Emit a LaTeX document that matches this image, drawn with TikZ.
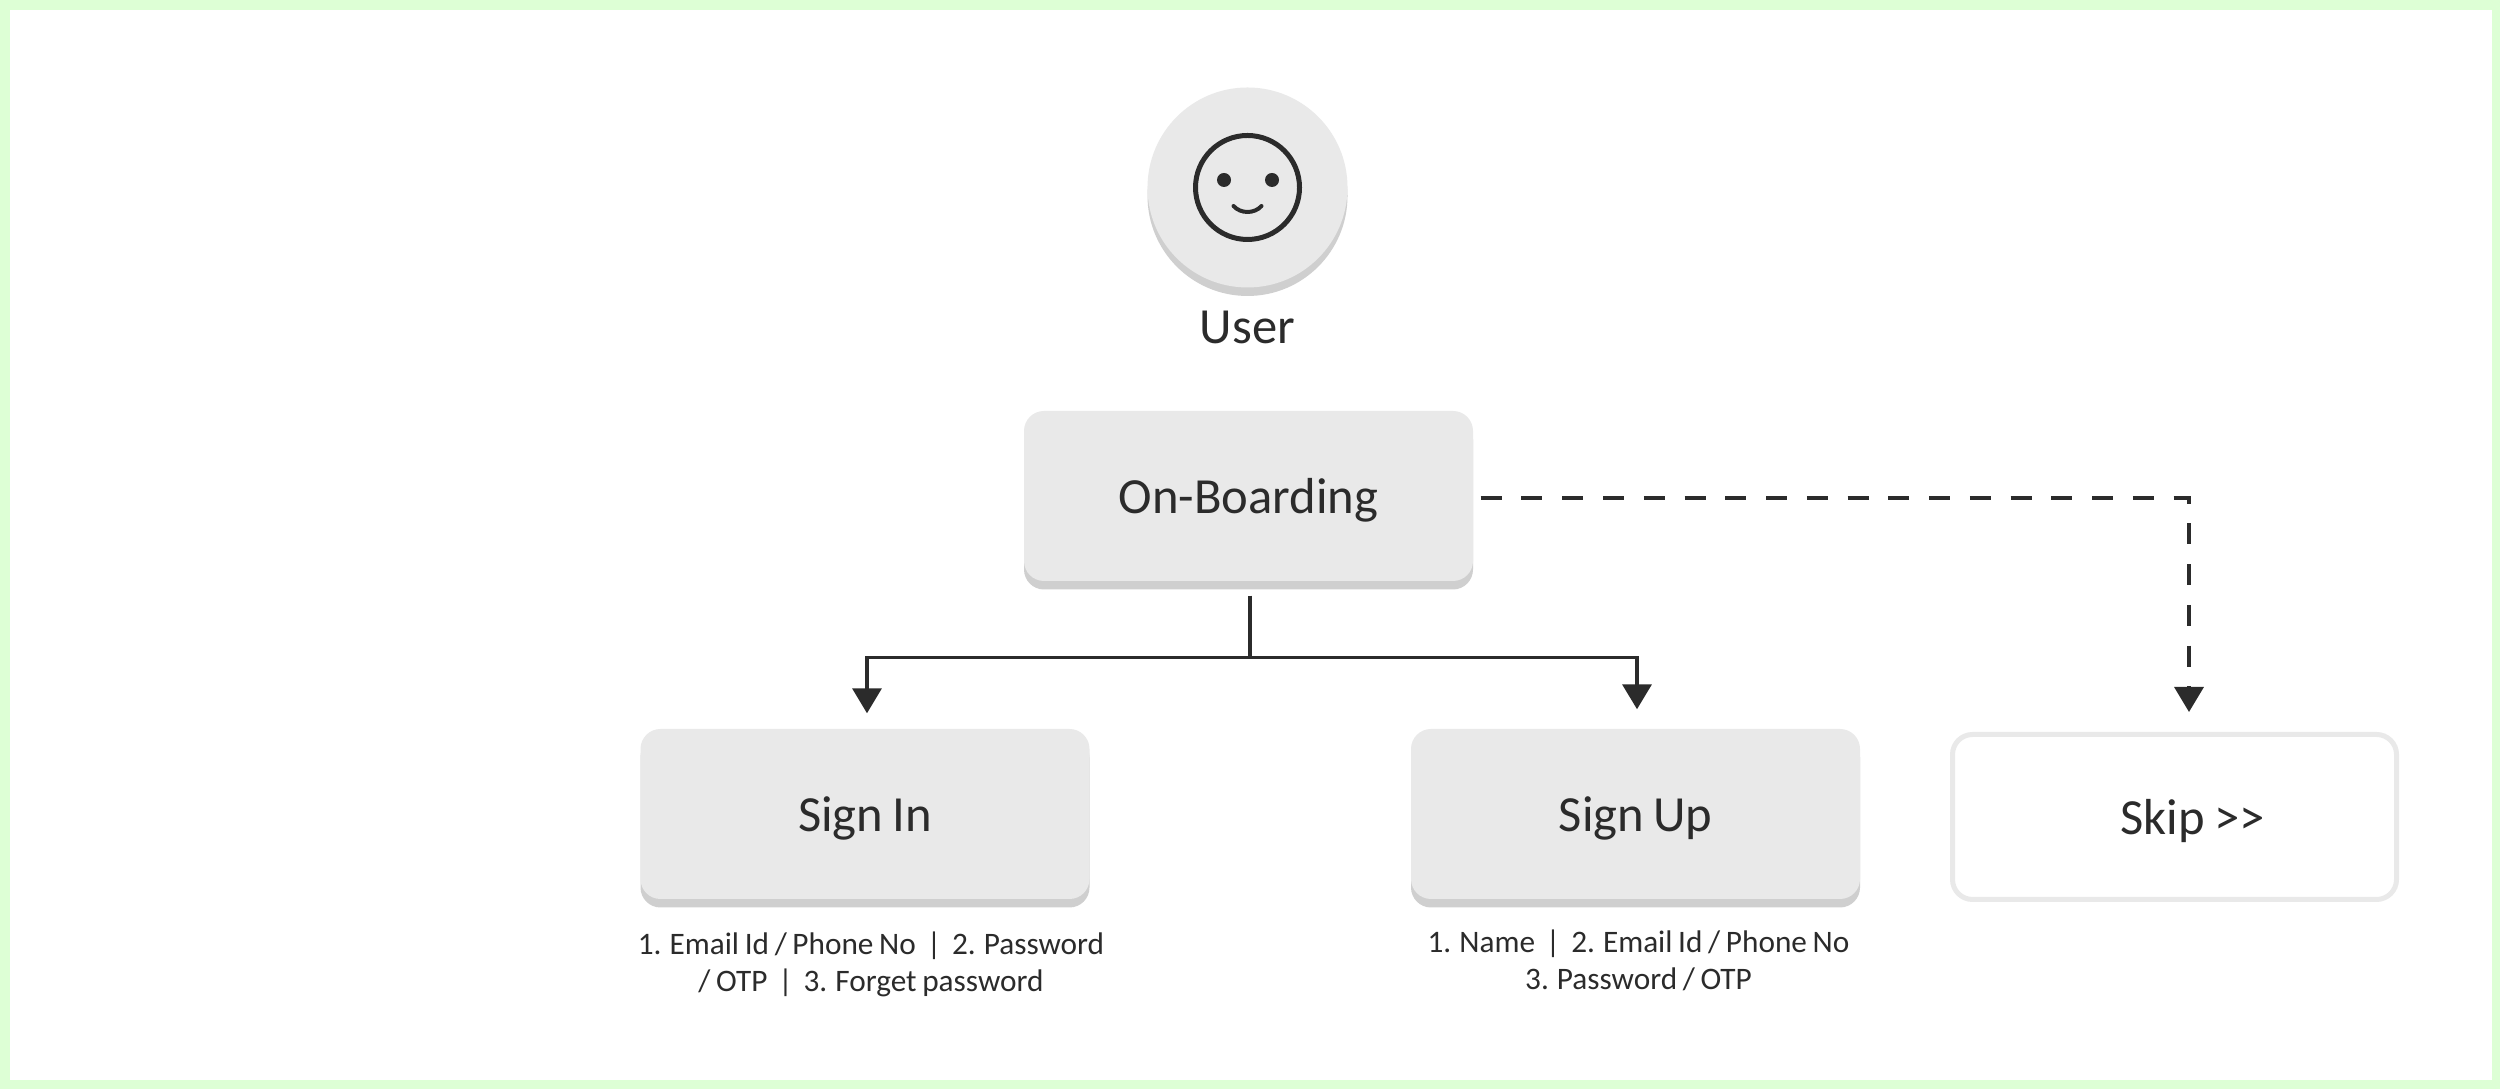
\documentclass[tikz,border=0pt]{standalone}
\usepackage{fontspec}
\setmainfont[WordSpace=0.8]{Carlito}
\usepackage{xcolor}
\usetikzlibrary{arrows.meta,positioning,shadows}
\definecolor{frameGreen}{HTML}{DDFFD5}
\definecolor{tileGrey}{HTML}{E9E9E9}
\definecolor{lipGrey}{HTML}{CFCFCF}
\definecolor{inkGrey}{HTML}{2B2B2B}
\newcommand{\bigtext}{\fontsize{14.4}{16}\selectfont}
\newcommand{\smalltext}{\fontsize{8.9}{10.5}\selectfont}
\tikzset{
  tilebase/.style={rounded corners=0.2cm, minimum width=4.49cm,
    minimum height=1.7cm, inner sep=0pt, text=inkGrey, font=\bigtext,
    text height=0.35cm, text depth=0cm},
  tile/.style={tilebase, fill=tileGrey,
    general shadow={shadow yshift=-0.085cm, fill=lipGrey}},
  wire/.style={draw=inkGrey, line width=0.035cm},
  tipped/.style={-{Triangle[length=0.25cm,width=0.29cm]}},
  caption/.style={align=center, inner sep=0pt, text=inkGrey, font=\smalltext}
}

\begin{document}
\begin{tikzpicture}[>=Stealth]
    \useasboundingbox (0,0) rectangle (25,10.89);
    % Frame
    \fill[frameGreen] (0,0) rectangle (25,10.89);
    \fill[white] (0.10,0.09) rectangle (24.92,10.79);

    % User
    \node[circle, fill=tileGrey, minimum size=2cm, inner sep=0pt,
          general shadow={shadow yshift=-0.085cm, fill=lipGrey}] (user) at (12.475,9.015) {};
    \draw[inkGrey, line width=0.05cm] (user.center) circle (0.52);
    \fill[inkGrey] ([shift={(-0.235,0.075)}]user.center) circle (0.07);
    \fill[inkGrey] ([shift={(0.245,0.075)}]user.center) circle (0.07);
    \draw[inkGrey, line width=0.04cm, line cap=round]
        ([shift={(-0.14,-0.185)}]user.center)
        .. controls ([shift={(-0.07,-0.265)}]user.center) and ([shift={(0.07,-0.265)}]user.center)
        .. ([shift={(0.14,-0.185)}]user.center);
    \node[below=0.225cm of user, inner sep=0pt, text=inkGrey, font=\bigtext,
          text height=0.32cm, text depth=0cm] (userlabel) {User};

    % Boxes
    \node[tile] (onboard) at (12.485,5.93) {On-Boarding};
    \node[tile] (signin) at (8.65,2.75) {Sign In};
    \node[tile] (signup) at (16.355,2.75) {Sign Up};
    \node[tilebase, fill=white, draw=tileGrey, line width=0.05cm,
          minimum width=4.44cm, minimum height=1.65cm, outer sep=0.025cm] (skip) at (21.745,2.72)
          {\hspace*{0.36cm}Skip >{}>};

    % Captions
    \node[caption, below=0.32cm of signin, xshift=0.06cm] (signincap)
        {1. Email Id / Phone No \,|\, 2. Password\\ / OTP \,|\, 3. Forget password};
    \node[caption, below=0.30cm of signup, xshift=0.03cm] (signupcap)
        {1. Name \,|\, 2. Email Id / Phone No\\ 3. Password / OTP};

    % Arrows
    \coordinate[below=0.76cm of onboard.south, xshift=0.015cm] (fork);
    \draw[wire, shorten <=0.14cm] ([xshift=0.015cm]onboard.south) -- (fork);
    \draw[wire, tipped, shorten >=0.15cm] (fork) -| ([xshift=0.02cm]signin.north);
    \draw[wire, tipped, shorten >=0.19cm] (fork) -| ([xshift=0.015cm]signup.north);
    \draw[wire, tipped, dash pattern=on 0.21cm off 0.1976cm, shorten <=0.07cm, shorten >=0.2cm]
        ([yshift=-0.02cm]onboard.east) -| ([xshift=0.145cm]skip.north);
\end{tikzpicture}
\end{document}
